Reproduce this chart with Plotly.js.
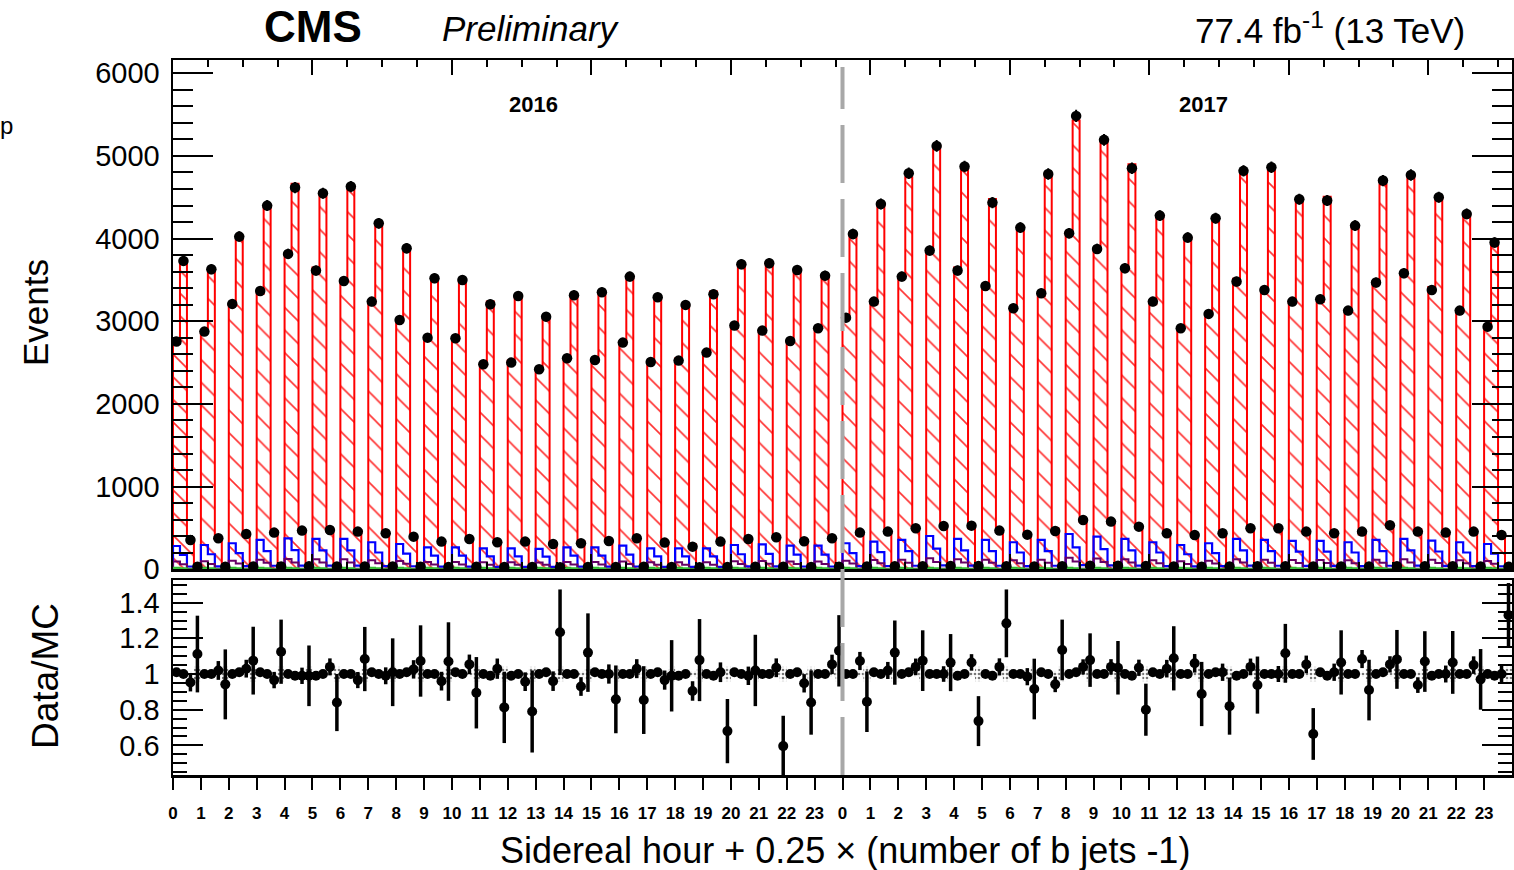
<!DOCTYPE html>
<html><head><meta charset="utf-8">
<script src="https://cdn.plot.ly/plotly-3.0.1.min.js"></script>
<style>html,body{margin:0;padding:0;background:#fff;} #chart{width:1514px;height:870px;}</style>
</head><body><div id="chart"></div>
<script>
// ---------- tick labels ----------
const hourLabels = ['0','1','2','3','4','5','6','7','8','9','10','11','12','13','14','15','16','17','18','19','20','21','22','23'];
const yearLabels = ['2016', '2017'];

// ---------- data: events per (sidereal hour, b-jet bin), 48 hours = 2016 then 2017 ----------
const dataNb1 = [2754,2875,3210,3367,3815,3613,3488,3238,3016,2802,2794,2480,2500,2419,2552,2532,2742,2508,2524,2621,2948,2887,2762,2915,
                 3044,3238,3540,3855,3613,3427,3157,3339,4065,3875,3641,3238,2915,3089,3480,3379,3238,3266,3129,3468,3581,3379,3129,2935];
const dataNb2 = [3730,3629,4024,4399,4617,4548,4629,4185,3883,3520,3500,3206,3306,3056,3315,3351,3540,3290,3198,3327,3690,3702,3621,3552,
                 4056,4419,4790,5121,4871,4435,4133,4782,5484,5194,4851,4278,4012,4246,4819,4863,4476,4460,4157,4702,4770,4500,4298,3952];
const dataNb3 = [355,375,427,444,468,476,456,435,395,335,367,327,335,306,315,343,375,323,274,335,367,387,339,375,
                 444,456,496,524,528,468,419,464,597,577,516,435,415,435,496,496,456,435,456,532,456,444,456,415];
const dataNb4 = [32,30,33,35,36,34,35,33,31,29,30,27,28,26,27,29,31,28,26,28,31,30,29,31,
                 34,36,38,40,39,36,33,36,44,42,39,34,32,33,37,38,35,35,33,37,37,36,34,31];

// ---------- Data/MC ratio ----------
const ratioNb1 = [1.01,1.00,1.00,1.01,1.00,0.99,1.00,1.01,1.00,1.00,1.01,1.00,0.99,1.00,1.00,1.01,1.00,1.00,0.99,1.00,1.01,1.00,1.00,1.00,
                  1.00,1.01,1.00,1.00,0.99,1.00,1.00,1.01,1.00,1.00,1.00,1.01,1.00,1.00,0.99,1.00,1.00,1.01,1.00,1.00,1.00,0.99,1.00,1.00];
const ratioNb2 = [1.00,1.00,1.01,1.00,0.99,1.00,1.00,1.00,1.01,1.00,1.00,0.99,1.00,1.01,1.00,1.00,1.00,1.01,1.00,0.99,1.00,1.00,1.01,1.00,
                  1.00,1.00,1.01,1.00,1.00,0.99,1.00,1.00,1.01,1.00,0.99,1.00,1.00,1.01,1.00,1.00,1.00,0.99,1.00,1.01,1.00,1.00,1.00,0.99];
const ratioNb3 = [0.953,1.02,1.03,0.966,0.99,1.04,0.966,0.99,1.026,0.96,1.054,1.03,0.957,0.96,0.93,1.0,1.03,0.966,0.905,1.01,0.99,1.035,0.948,1.054,
                  1.073,1.02,1.04,1.0,1.065,1.04,0.985,0.942,1.04,1.04,1.035,1.03,1.06,1.01,1.04,1.0,1.054,1.01,1.084,1.054,0.938,1.0,1.05,1.0];
const ratioNb4 = [1.112,0.942,1.075,1.125,0.99,0.84,1.084,1.01,1.073,1.07,0.895,0.813,0.79,1.234,1.12,0.858,0.854,0.99,1.078,0.68,1.02,0.596,0.84,1.13,
                  0.845,1.12,1.075,1.064,0.736,1.284,0.916,1.135,1.078,1.035,0.8,1.088,0.888,0.82,0.938,1.116,0.664,1.065,0.91,1.082,1.07,1.065,0.97,1.33];
const ratioErrNb4 = [0.215,0.196,0.19,0.18,0.17,0.16,0.18,0.19,0.2,0.22,0.2,0.2,0.23,0.24,0.22,0.19,0.19,0.2,0.23,0.18,0.2,0.17,0.18,0.2,
                     0.17,0.18,0.17,0.16,0.14,0.19,0.17,0.17,0.15,0.15,0.146,0.18,0.18,0.16,0.16,0.165,0.145,0.18,0.17,0.165,0.17,0.176,0.17,0.18];
const mcUncHalfByNb = [0.006, 0.006, 0.015, 0.04];

// ---------- other backgrounds (stacked, cumulative) ----------
const blueNb1 = [282,294,315,355,375,367,367,327,306,266,266,254,254,246,266,266,286,254,254,254,294,302,286,286,
                 315,335,355,403,367,355,327,355,427,395,367,327,294,315,367,355,343,343,327,355,367,347,327,306];
const blueNb2 = [175,182,195,220,233,228,228,203,190,165,165,157,157,153,165,165,177,157,157,157,182,187,177,177,
                 195,208,220,250,228,220,203,220,265,245,228,203,182,195,228,220,213,213,203,220,228,215,203,190];
const blueNb3 = [34,35,38,43,45,44,44,39,37,32,32,30,30,30,32,32,34,30,30,30,35,36,34,34,
                 38,40,43,48,44,43,39,43,51,47,44,39,35,38,44,43,41,41,39,43,44,42,39,37];
const blueNb4 = [4,4,4,5,5,5,5,4,4,4,4,3,3,3,4,4,4,3,3,3,4,4,4,4,4,5,5,5,5,5,4,5,6,5,5,4,4,4,5,5,5,5,4,5,5,5,4,4];
const purpleNb1 = [93,97,104,117,124,121,121,108,101,88,88,84,84,81,88,88,94,84,84,84,97,100,94,94,
                   104,111,117,133,121,117,108,117,141,130,121,108,97,104,121,117,113,113,108,117,121,115,108,101];
const purpleNb2 = [62,65,69,78,83,81,81,72,67,59,59,56,56,54,59,59,63,56,56,56,65,66,63,63,
                   69,74,78,89,81,78,72,78,94,87,81,72,65,69,81,78,75,75,72,78,81,76,72,67];
const purpleByNb34 = [6, 1];
const greenByNb = [22, 16, 4, 1];

// ---------- build ----------
const NH = dataNb1.length;
const dataByNb = [dataNb1, dataNb2, dataNb3, dataNb4];
const ratioByNb = [ratioNb1, ratioNb2, ratioNb3, ratioNb4];
const blueByNb = [blueNb1, blueNb2, blueNb3, blueNb4];
const BW = 0.25;

const cx = [], dY = [], dE = [], rY = [], rE = [], mc = [], edges = [];
const bandBase = [], bandH = [], blue = [], purple = [], green = [];
for (let h = 0; h < NH; h++) {
  for (let k = 0; k < 4; k++) {
    const N = dataByNb[k][h], r = ratioByNb[k][h];
    edges.push(h + BW * k);
    cx.push(h + BW * k + BW / 2);
    dY.push(N); dE.push(Math.sqrt(N));
    rY.push(r); rE.push(k === 3 ? ratioErrNb4[h] : r / Math.sqrt(N));
    mc.push(N / r);
    bandBase.push(1 - mcUncHalfByNb[k]); bandH.push(2 * mcUncHalfByNb[k]);
    blue.push(blueByNb[k][h]);
    purple.push(k === 0 ? purpleNb1[h] : k === 1 ? purpleNb2[h] : purpleByNb34[k - 2]);
    green.push(greenByNb[k]);
  }
}
function step(vals) {
  const xs = [0], ys = [0];
  for (let i = 0; i < vals.length; i++) { xs.push(edges[i]); ys.push(vals[i]); }
  xs.push(NH); ys.push(vals[vals.length - 1]);
  xs.push(NH); ys.push(0);
  return {x: xs, y: ys};
}
const sMC = step(mc), sBlue = step(blue), sPur = step(purple), sGreen = step(green);

const traces = [
  {type:'scatter', mode:'lines', x:sMC.x, y:sMC.y, line:{shape:'hv', color:'#ff0000', width:2},
   fill:'tozeroy', fillcolor:'rgba(0,0,0,0)',
   fillpattern:{shape:'\\', fgcolor:'#ff3030', bgcolor:'rgba(255,255,255,0)', size:16, solidity:0.1}, xaxis:'x', yaxis:'y'},
  {type:'scatter', mode:'lines', x:sBlue.x, y:sBlue.y, line:{shape:'hv', color:'#0000ff', width:2.2}, xaxis:'x', yaxis:'y'},
  {type:'scatter', mode:'lines', x:sPur.x, y:sPur.y, line:{shape:'hv', color:'#660066', width:2}, xaxis:'x', yaxis:'y'},
  {type:'scatter', mode:'lines', x:sGreen.x, y:sGreen.y, line:{shape:'hv', color:'#33bb33', width:1.5},
   fill:'tozeroy', fillcolor:'#44cc44', xaxis:'x', yaxis:'y'},
  {type:'scatter', mode:'markers', x:cx, y:dY, marker:{color:'#000', size:10.5},
   error_y:{type:'data', array:dE, visible:true, color:'#000', thickness:2, width:0}, xaxis:'x', yaxis:'y'},
  {type:'bar', x:cx, y:bandH, base:bandBase, width:BW, xaxis:'x2', yaxis:'y2',
   marker:{color:'rgba(0,0,0,0)', line:{width:0}, pattern:{shape:'.', fgcolor:'#777', bgcolor:'rgba(255,255,255,0)', size:4, solidity:0.35}}},
  {type:'scatter', mode:'markers', x:cx, y:rY, marker:{color:'#000', size:10},
   error_y:{type:'data', array:rE, visible:true, color:'#000', thickness:3.5, width:0}, xaxis:'x2', yaxis:'y2'}
];

const FONT = 'Liberation Sans, Arial, Helvetica, sans-serif';
const L = 173, R = 2, T = 60, B = 95, W = 1514, H = 870;
const pw = W - L - R, ph = H - T - B;
const px = v => (v - L) / pw;          // page x pixel -> paper
const py = v => (H - B - v) / ph;      // page y pixel -> paper

const tickTextAll = hourLabels.concat(hourLabels);
const tickValsAll = tickTextAll.map((t, i) => i);

const layout = {
  width: W, height: H, autosize:false,
  margin:{l:L, r:R, t:T, b:B, pad:0},
  paper_bgcolor:'#fff', plot_bgcolor:'rgba(0,0,0,0)',
  showlegend:false, hovermode:false, barmode:'overlay',
  font:{family:FONT, color:'#000'},
  xaxis:{domain:[0,1], range:[0,NH], anchor:'y', showticklabels:false, showgrid:false, zeroline:false,
         showline:true, linecolor:'#000', linewidth:2.5, mirror:'ticks',
         ticks:'inside', tickmode:'linear', tick0:0, dtick:5, ticklen:15, tickwidth:2, tickcolor:'#000',
         minor:{dtick:1.25, ticks:'inside', ticklen:7, tickwidth:2, tickcolor:'#000', showgrid:false}},
  yaxis:{domain:[py(569.3),1], range:[0,6160], anchor:'x', showgrid:false, zeroline:false,
         showline:true, linecolor:'#000', linewidth:2.5, mirror:'ticks',
         ticks:'inside', tickmode:'linear', tick0:0, dtick:1000, ticklen:40, tickwidth:2, tickcolor:'#000',
         minor:{dtick:200, ticks:'inside', ticklen:20, tickwidth:2, tickcolor:'#000', showgrid:false},
         tickfont:{size:29, family:FONT}, ticklabelstandoff:5},
  xaxis2:{domain:[0,1], range:[0,NH], anchor:'y2', showgrid:false, zeroline:false,
          showline:true, linecolor:'#000', linewidth:2.5, mirror:true,
          ticks:'outside', tickmode:'array', tickvals:tickValsAll, ticktext:tickTextAll,
          ticklen:12, tickwidth:2, tickcolor:'#000',
          tickfont:{size:17, family:FONT, weight:'bold'}, ticklabelstandoff:9},
  yaxis2:{domain:[0,py(580)], range:[0.434,1.527], anchor:'x2', showgrid:false, zeroline:false,
          showline:true, linecolor:'#000', linewidth:2.5, mirror:'ticks',
          ticks:'inside', tickmode:'linear', tick0:0.2, dtick:0.2, ticklen:30, tickwidth:2, tickcolor:'#000',
          minor:{dtick:0.05, ticks:'inside', ticklen:14, tickwidth:2, tickcolor:'#000', showgrid:false},
          tickfont:{size:29, family:FONT}, ticklabelstandoff:5},
  shapes:[{type:'line', xref:'x', yref:'paper', x0:24, x1:24, y0:py(775), y1:py(67),
           line:{color:'#a8a8a8', width:4, dash:'58px,16px'}}],
  annotations:[
    {text:'<b>CMS</b>', xref:'paper', yref:'paper', x:px(313), y:py(27), xanchor:'center', yanchor:'middle', showarrow:false, font:{size:44, family:FONT}},
    {text:'<i>Preliminary</i>', xref:'paper', yref:'paper', x:px(531), y:py(29), xanchor:'center', yanchor:'middle', showarrow:false, font:{size:35, family:FONT}},
    {text:'77.4 fb<sup>-1</sup> (13 TeV)', xref:'paper', yref:'paper', x:px(1467), y:py(28), xanchor:'right', yanchor:'middle', showarrow:false, font:{size:35, family:FONT}},
    {text:'<b>'+yearLabels[0]+'</b>', xref:'paper', yref:'paper', x:px(533), y:py(104), xanchor:'center', yanchor:'middle', showarrow:false, font:{size:22, family:FONT}},
    {text:'<b>'+yearLabels[1]+'</b>', xref:'paper', yref:'paper', x:px(1203), y:py(104), xanchor:'center', yanchor:'middle', showarrow:false, font:{size:22, family:FONT}},
    {text:'Events', xref:'paper', yref:'paper', x:px(35), y:py(313), xanchor:'center', yanchor:'middle', textangle:-90, showarrow:false, font:{size:35, family:FONT}},
    {text:'Data/MC', xref:'paper', yref:'paper', x:px(45), y:py(676), xanchor:'center', yanchor:'middle', textangle:-90, showarrow:false, font:{size:37, family:FONT}},
    {text:'Sidereal hour + 0.25 × (number of b jets -1)', xref:'paper', yref:'paper', x:px(845), y:py(850), xanchor:'center', yanchor:'middle', showarrow:false, font:{size:36, family:FONT}},
    {text:'p', xref:'paper', yref:'paper', x:px(6), y:py(125), xanchor:'center', yanchor:'middle', showarrow:false, font:{size:24, family:FONT}}
  ]
};

Plotly.newPlot('chart', traces, layout, {staticPlot:true, displayModeBar:false});
</script></body></html>
